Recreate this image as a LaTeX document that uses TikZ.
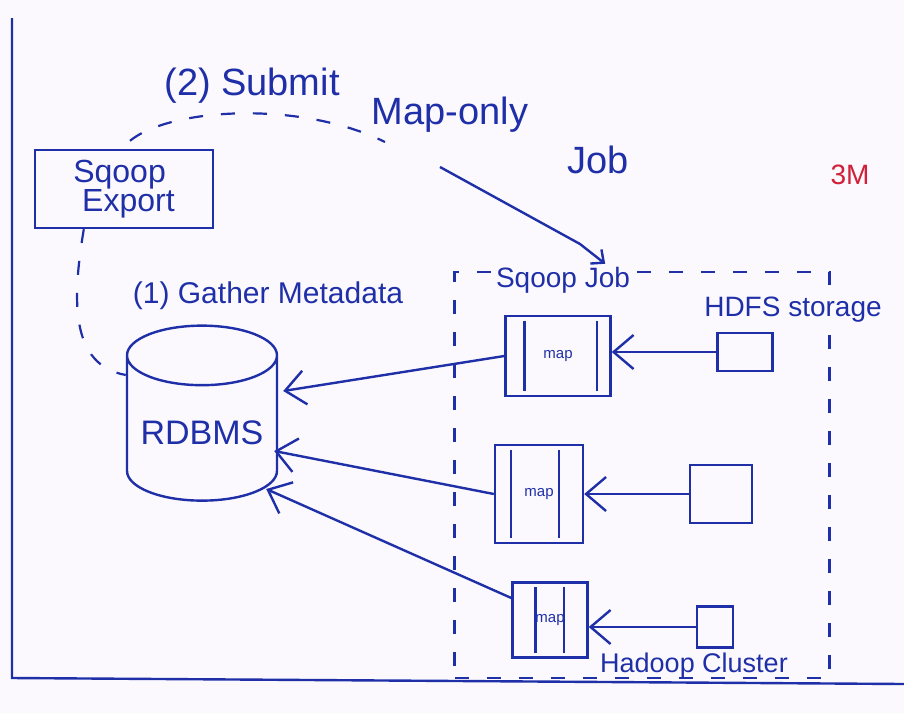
\documentclass[tikz,border=0pt]{standalone}
\usepackage{fontspec}
\setmainfont{Liberation Sans}
\usetikzlibrary{arrows.meta,shapes.geometric,calc}
\definecolor{ink}{HTML}{1F2FA8}
\definecolor{paper}{HTML}{FBF9FD}
\definecolor{redink}{HTML}{D0203A}
\begin{document}
\begin{tikzpicture}[x=1pt,y=-1pt,line width=2.4pt,draw=ink,
  every node/.style={text=ink},
  boxstyle/.style={draw=ink,line width=2.4pt,inner sep=0pt},
  dashline/.style={draw=ink,line width=2.2pt,dash pattern=on 14pt off 18pt},
  barb/.style={draw=ink,-{Straight Barb[length=20pt,width=34pt]}},
  hook/.style={draw=ink,-{Straight Barb[length=10pt,width=18pt]}},
  lbl/.style={font=\fontsize{28}{30}\selectfont},
  titlefont/.style={font=\fontsize{38}{40}\selectfont},
  maplbl/.style={font=\fontsize{15}{16}\selectfont}]
\fill[paper] (0,0) rectangle (904,713);
\useasboundingbox (0,0) rectangle (904,713);
% page frame
\draw (12,18) -- (12,678) -- (904,684);
% nodes
\node[boxstyle,minimum width=178pt,minimum height=78pt,align=left,
      font=\fontsize{32}{27}\selectfont] (export) at (124,189) {Sqoop\\\ Export};
\node[cylinder,shape border rotate=90,aspect=0.46,draw=ink,line width=2.4pt,
      minimum width=150pt,minimum height=175pt,
      font=\fontsize{34}{36}\selectfont] (rdbms) at (202,433) {RDBMS};
\node[dashline,minimum width=375pt,minimum height=406pt] (region) at (642,475) {};
\node[lbl,fill=paper,inner sep=2pt] (job) at (563,280) {Sqoop Job};
\node[lbl,fill=paper,inner sep=2pt] (hdfs) at (793,310) {HDFS storage};
\node[font=\fontsize{27}{28}\selectfont,inner sep=1pt] (cluster) at (694,666) {Hadoop Cluster};
\node[titlefont] (title) at (252,86) {(2) Submit};
\node[titlefont] (title2) at (450,115) {Map-only};
\node[titlefont] (title3) at (598,160) {Job};
\node[font=\fontsize{30}{32}\selectfont] (gather) at (268,296) {(1) Gather Metadata};
\node[text=redink,font=\fontsize{28}{30}\selectfont] (marks) at (850,175) {3M};
% map boxes
\node[boxstyle,minimum width=105pt,minimum height=80pt,maplbl] (map1) at (558,356) {map};
\node[boxstyle,minimum width=88pt,minimum height=98pt,maplbl] (map2) at (539,494) {map};
\node[boxstyle,minimum width=75pt,minimum height=75pt,maplbl] (map3) at (550,620) {map};
\foreach \m/\a/\b in {map1/20/15, map2/17/25, map3/24/25}{
  \draw ($(\m.north west)+(\a,6)$) -- ($(\m.south west)+(\a,-6)$);
  \draw ($(\m.north east)+(-\b,6)$) -- ($(\m.south east)+(-\b,-6)$);
}
% hdfs boxes
\node[boxstyle,minimum width=55pt,minimum height=38pt] (h1) at (745,352) {};
\node[boxstyle,minimum width=62pt,minimum height=58pt] (h2) at (721,494) {};
\node[boxstyle,minimum width=36pt,minimum height=41pt] (h3) at (715,627) {};
% arrows hdfs -> map
\draw[barb] (h1.west) -- (h1.west -| map1.east);
\draw[barb] (h2.west) -- (h2.west -| map2.east);
\draw[barb] (h3.west) -- (h3.west -| map3.east);
% arrows map -> rdbms
\draw[barb] (map1.west) -- ($(rdbms.east)+(5,-42)$);
\draw[barb] (map2.west) -- ($(rdbms.east)+(-4,18)$);
\draw[barb] ($(map3.west)+(0,-22)$) -- ($(rdbms.east)+(-12,56)$);
% dashed flows
\draw[dashline] ($(export.south west)+(50,0)$) .. controls (72,300) and (70,365) .. ($(rdbms.west)+(0,-58)$);
\draw[dashline] ($(export.north)+(6,-8)$) .. controls (170,108) and (300,100) .. (385,142);
\coordinate (bend) at (580,244);
\draw[hook] (440,167) -- (bend) -- ($(job.north east)+(-28,0)$);
\end{tikzpicture}
\end{document}
